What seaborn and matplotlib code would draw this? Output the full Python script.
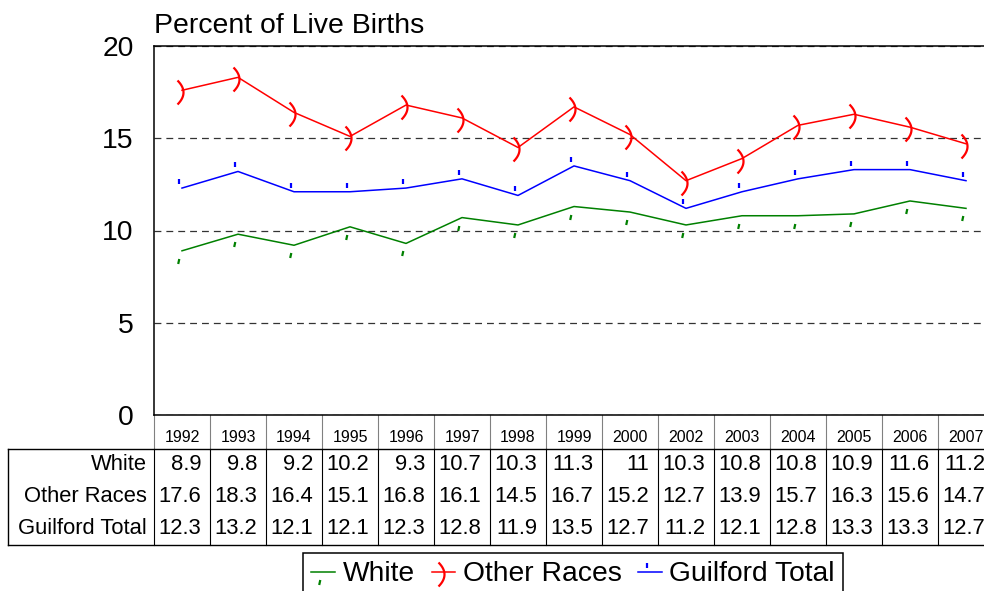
import numpy as np
import pandas as pd
import matplotlib
matplotlib.use("Agg")
import matplotlib.pyplot as plt
from matplotlib.path import Path
from matplotlib.transforms import blended_transform_factory
import seaborn as sns

# ---------------- data ----------------
years = ["1992", "1993", "1994", "1995", "1996", "1997", "1998", "1999",
         "2000", "2002", "2003", "2004", "2005", "2006", "2007"]
white = [8.9, 9.8, 9.2, 10.2, 9.3, 10.7, 10.3, 11.3, 11, 10.3, 10.8, 10.8, 10.9, 11.6, 11.2]
other_races = [17.6, 18.3, 16.4, 15.1, 16.8, 16.1, 14.5, 16.7, 15.2, 12.7, 13.9, 15.7, 16.3, 15.6, 14.7]
guilford_total = [12.3, 13.2, 12.1, 12.1, 12.3, 12.8, 11.9, 13.5, 12.7, 11.2, 12.1, 12.8, 13.3, 13.3, 12.7]
series_names = ["White", "Other Races", "Guilford Total"]
series_values = [white, other_races, guilford_total]
colors = ["#008000", "#FF0000", "#0000FF"]
y_ticks = [0, 5, 10, 15, 20]
title = "Percent of Live Births"

idx = np.arange(len(years))
df = pd.concat([pd.DataFrame({"idx": idx, "value": v, "series": n})
                for n, v in zip(series_names, series_values)], ignore_index=True)

plt.rcParams["font.family"] = ["Liberation Sans", "DejaVu Sans"]

# ---------------- custom Excel-like markers (pixel units, y up) ----------------
PX = 0.72  # points per pixel at dpi 100


def make_marker(verts):
    verts = np.asarray(verts, float)
    codes = [Path.MOVETO] + [Path.LINETO] * (len(verts) - 1)
    p = Path(verts, codes)
    return p, 2 * np.abs(verts).max() * PX


yy = np.linspace(-14, 10, 31)
xx = -5 + 6 * (1 - ((yy + 2) / 12) ** 2)
markers = [
    make_marker([(-4.3, -12.5), (-3.2, -7.5)]),
    make_marker(np.column_stack([xx, yy])),
    make_marker([(-3, 4), (-3, 9)]),
]

# ---------------- figure ----------------
W_PX, H_PX = 984, 591
fig = plt.figure(figsize=(W_PX / 100, H_PX / 100), dpi=100)
left_px, right_px, top_px, bot_px = 154, 994, 46, 415
ax = fig.add_axes([left_px / W_PX, 1 - bot_px / H_PX,
                   (right_px - left_px) / W_PX, (bot_px - top_px) / H_PX])

for (name, color, (mk, ms)) in zip(series_names, colors, markers):
    sns.lineplot(data=df[df["series"] == name], x="idx", y="value", ax=ax,
                 color=color, lw=1.1, marker=mk, markersize=ms,
                 mfc="none", mec=color, mew=1.6, label=name, legend=False)

ax.set_xlim(-0.5, len(years) - 0.5)
ax.set_ylim(0, 20)
ax.set_yticks(y_ticks)
ax.set_yticklabels([str(t) for t in y_ticks], fontsize=20.4)
ax.tick_params(axis="y", length=0, pad=14.5)
ax.set_xticks([])
ax.set_xlabel("")
ax.set_ylabel("")
ax.yaxis.grid(True, color="#333333", lw=0.9, linestyle=(0, (5.5, 4.0)))
ax.xaxis.grid(False)
ax.set_axisbelow(True)
for s in ["left", "top", "bottom"]:
    ax.spines[s].set_color("black")
    ax.spines[s].set_linewidth(1.1)
ax.spines["right"].set_visible(False)

fig.text(left_px / W_PX, 1 - 33 / H_PX, title, fontsize=20.4, ha="left", va="baseline")

# ---------------- data table ----------------
ax_h = bot_px - top_px


def ay(p):  # pixel y -> axes fraction
    return (bot_px - p) / ax_h


tr_dx = blended_transform_factory(ax.transData, ax.transAxes)
tr_fx = blended_transform_factory(fig.transFigure, ax.transAxes)

year_y = ay(437)
row_ys = [ay(465), ay(497), ay(529)]
tab_top, tab_bot = ay(449), ay(545)

for i, yr in enumerate(years):
    ax.text(i, year_y, yr, transform=tr_dx, ha="center", va="center", fontsize=11.5)

for b in np.arange(-0.5, len(years), 1.0):
    ax.plot([b, b], [0, tab_top], transform=tr_dx, color="#808080", lw=0.8, clip_on=False)
    ax.plot([b, b], [tab_top, tab_bot], transform=tr_dx, color="black", lw=0.8, clip_on=False)

ax.plot([8 / W_PX, 1.0], [tab_top, tab_top], transform=tr_fx, color="black", lw=1.0, clip_on=False)
ax.plot([8 / W_PX, 1.0], [tab_bot, tab_bot], transform=tr_fx, color="black", lw=1.0, clip_on=False)
ax.plot([8 / W_PX, 8 / W_PX], [tab_top, tab_bot], transform=tr_fx, color="black", lw=1.0, clip_on=False)

for name, vals, ry in zip(series_names, series_values, row_ys):
    ax.text(147 / W_PX, ry, name, transform=tr_fx, ha="right", va="center", fontsize=15.8)
    for i, v in enumerate(vals):
        ax.text(i + 0.5 - 9 / 56, ry, f"{v:g}", transform=tr_dx, ha="right",
                va="center", fontsize=15.8)

# ---------------- legend ----------------
handles, labels = ax.get_legend_handles_labels()
leg = ax.legend(handles, labels, loc="upper left",
                bbox_to_anchor=(303 / W_PX, 1 - 553 / H_PX),
                bbox_transform=fig.transFigure, ncol=3, fontsize=20.3,
                frameon=True, fancybox=False, framealpha=1, edgecolor="black",
                handlelength=0.85, handletextpad=0.25, columnspacing=0.6,
                borderpad=0.3, borderaxespad=0, numpoints=1)
leg.get_frame().set_linewidth(1.1)

fig.savefig("out.png", dpi=100)
